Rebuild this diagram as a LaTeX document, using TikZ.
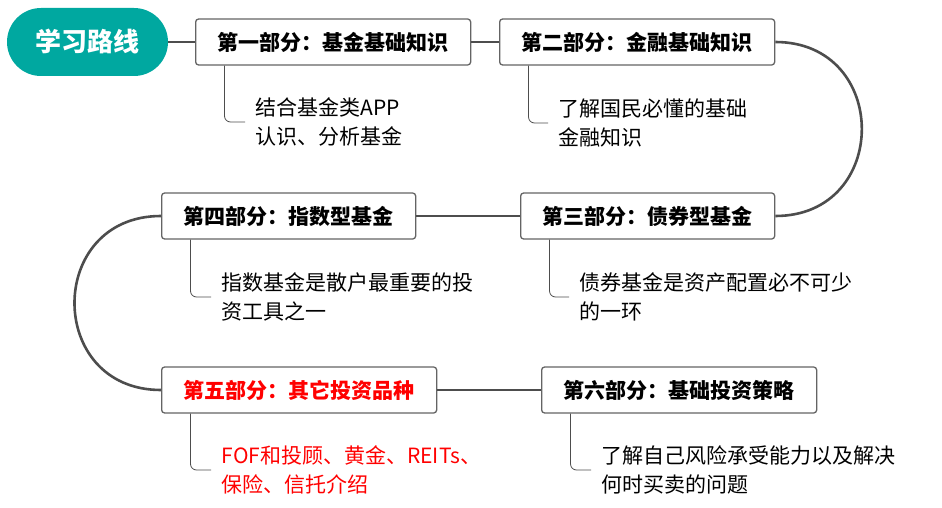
\documentclass[tikz,border=0pt]{standalone}
\usepackage{fontspec}
\newfontfamily\cjk{Noto Sans CJK SC}
\definecolor{pillteal}{RGB}{0,168,160}
\definecolor{linegray}{RGB}{77,77,77}
\definecolor{boxgray}{RGB}{100,100,100}
\begin{document}
\begin{tikzpicture}[x=1pt,y=-1pt,
    root/.style={fill=pillteal,rounded corners=34pt,minimum width=161pt,minimum height=68pt,
      text=white,font={\cjk\bfseries\fontsize{26}{30}\selectfont}},
    part/.style={draw=boxgray,line width=1.3pt,fill=white,rounded corners=3pt,minimum height=46pt,
      inner xsep=22pt,font={\cjk\bfseries\fontsize{21}{25}\selectfont}},
    note/.style={anchor=west,align=left,inner xsep=10.5pt,inner ysep=0pt,
      font={\cjk\fontsize{21}{29}\selectfont}},
    link/.style={draw=linegray,line width=2.6pt},
    twig/.style={draw=linegray,line width=0.8pt,rounded corners=6pt}]
  \useasboundingbox (0,0) rectangle (942,508);
  % boxes
  \node[root] (r) at (87.5,42) {学习路线};
  \node[part,anchor=west] (b1) at (195,42) {第一部分：基金基础知识};
  \node[part,anchor=west] (b2) at (499,42) {第二部分：金融基础知识};
  \node[part,anchor=west] (b3) at (520,216) {第三部分：债券型基金};
  \node[part,anchor=west] (b4) at (161,216) {第四部分：指数型基金};
  \node[part,anchor=west,text=red] (b5) at (161,390) {第五部分：其它投资品种};
  \node[part,anchor=west] (b6) at (541,390) {第六部分：基础投资策略};
  % notes
  \node[note] (t1) at (245,122) {结合基金类APP\\认识、分析基金};
  \node[note] (t2) at (548,123) {了解国民必懂的基础\\金融知识};
  \node[note] (t3) at (569,297) {债券基金是资产配置必不可少\\的一环};
  \node[note] (t4) at (211,297) {指数基金是散户最重要的投\\资工具之一};
  \node[note,text=red] (t5) at (211,470) {FOF和投顾、黄金、REITs、\\保险、信托介绍};
  \node[note] (t6) at (591,470) {了解自己风险承受能力以及解决\\何时买卖的问题};
  % main path
  \draw[link] (r.east) -- (b1.west);
  \draw[link] (b1.east) -- (b2.west);
  \draw[link] (b2.east) to[out=0,in=0,looseness=1.7] (b3.east);
  \draw[link] (b3.west) -- (b4.east);
  \draw[link] (b4.west) to[out=180,in=180,looseness=1.7] (b5.west);
  \draw[link] (b5.east) -- (b6.west);
  % twigs
  \foreach \b/\t in {b1/t1,b2/t2,b3/t3,b4/t4,b5/t5,b6/t6}
    \draw[twig] ([xshift=29.5pt]\b.south west) |- (\t.west);
\end{tikzpicture}
\end{document}
